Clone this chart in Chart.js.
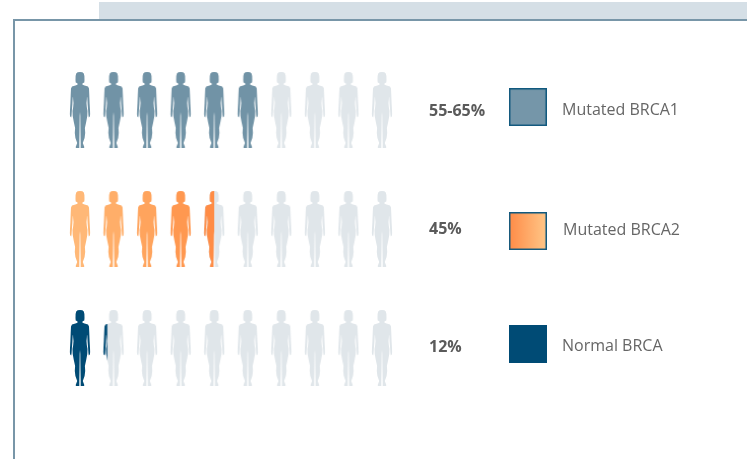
<!DOCTYPE html>
<html>
<head>
<meta charset="utf-8">
<title>BRCA risk</title>
<script src="https://cdn.jsdelivr.net/npm/chart.js@4"></script>
<style>
  html, body { margin: 0; padding: 0; background: #fff; }
  #wrap { position: relative; width: 747px; height: 459px; overflow: hidden; }
  #topbar { position: absolute; left: 99px; top: 2px; right: 0; height: 17px; background: #d5dfe6; }
  #frame { position: absolute; left: 13px; top: 19px; width: 800px; height: 500px; border: 2px solid #7896a8; }
  canvas { position: absolute; left: 0; top: 0; }
</style>
</head>
<body>
<div id="wrap">
  <div id="topbar"></div>
  <div id="frame"></div>
  <div style="position:absolute;left:0;top:0;width:747px;height:459px"><canvas id="chart"></canvas></div>
</div>
<script>
const categories = ['Mutated BRCA1', 'Mutated BRCA2', 'Normal BRCA'];
const percentLabels = ['55-65%', '45%', '12%'];
// how many of the ten figures are filled in each row
const filledFigures = [6, 4.5, 1.2];
const figureColumns = [1, 2, 3, 4, 5, 6, 7, 8, 9, 10];
const rowColors = [
  ['#7193a6', '#7193a6', '#7193a6', '#7193a6', '#7193a6', '#7193a6'],
  ['#ffb877', '#ffae69', '#ffa45d', '#ff9850', '#ff8c45'],
  ['#004b75', '#004b75']
];
const emptyColor = '#e0e6ea';

// half outline of the figure, mirrored when drawn
const halfBody = [[0,0],[2.4,.2],[3.8,1.4],[4.4,4],[4.5,8],[4.3,10.6],[2.6,11.2],[2.5,12.8],[4.6,13.6],[8,14.6],[9,16.5],[9.3,23],[9.6,31],[10,38],[10.3,42],
  [9.8,44.6],[8.8,45.4],[8.4,43],[8.1,38],[7.6,32],[7.3,26],[7,24.5],[6.9,27],[6.5,31],[6.8,35],[7.5,39],[7.3,44],[6.2,50],[4.9,56],[5.2,61],[4.6,66],[2.8,71],[4.4,75.2],[3.8,76],[.7,76],[.7,71],[.5,60],[.3,44],[0,40]];

function figureCanvas(color, fraction) {
  const c = document.createElement('canvas');
  c.width = 24;
  c.height = 80;
  const g = c.getContext('2d');
  const cx = 12, top = 2;
  g.save();
  g.beginPath();
  g.rect(cx - 10.4, 0, 20.8 * fraction, 80);
  g.clip();
  g.filter = 'blur(0.35px)';
  g.beginPath();
  halfBody.forEach((p, i) => i ? g.lineTo(cx + p[0], top + p[1]) : g.moveTo(cx + p[0], top + p[1]));
  for (let i = halfBody.length - 1; i >= 0; i--) g.lineTo(cx - halfBody[i][0], top + halfBody[i][1]);
  g.closePath();
  g.fillStyle = color;
  g.fill();
  g.restore();
  return c;
}

function swatchCanvas(row) {
  const c = document.createElement('canvas');
  c.width = 38;
  c.height = 38;
  const g = c.getContext('2d');
  if (row === 1) {
    const grad = g.createLinearGradient(0, 0, 38, 0);
    grad.addColorStop(0, '#ff8b47');
    grad.addColorStop(1, '#ffc788');
    g.fillStyle = grad;
  } else {
    g.fillStyle = row === 0 ? '#7596a9' : '#004b75';
  }
  g.fillRect(0, 0, 38, 38);
  if (row < 2) {
    g.strokeStyle = '#11597e';
    g.lineWidth = 1.5;
    g.strokeRect(.75, .75, 36.5, 36.5);
  }
  return c;
}

const datasets = [];
const swatchX = 14.35;
const swatchShift = [-.025, .017, -.034];
categories.forEach((name, r) => {
  const fill = filledFigures[r];
  const solid = figureColumns.filter(col => col - 1 < fill);
  datasets.push({
    label: name,
    data: solid.map(col => ({ x: col, y: r + 1 })),
    pointStyle: solid.map(col => figureCanvas(rowColors[r][col - 1], Math.min(1, fill - col + 1))),
    order: 1
  });
  const empty = figureColumns.filter(col => col > Math.floor(fill));
  datasets.push({
    label: name + ' rest',
    data: empty.map(col => ({ x: col, y: r + 1 })),
    pointStyle: empty.map(() => figureCanvas(emptyColor, 1)),
    order: 2
  });
  datasets.push({
    label: name + ' key',
    data: [{ x: swatchX, y: r + 1 + swatchShift[r] }],
    pointStyle: swatchCanvas(r),
    order: 1
  });
});

const rowText = {
  id: 'rowText',
  afterDatasetsDraw(chart) {
    const { ctx, scales } = chart;
    ctx.save();
    ctx.textBaseline = 'middle';
    categories.forEach((name, r) => {
      const y = scales.y.getPixelForValue(r + 1);
      ctx.font = 'bold 16px "Open Sans"';
      ctx.fillStyle = '#5a5a5a';
      ctx.fillText(percentLabels[r], 429, y + [1, 0, -1][r]);
      ctx.font = '16px "Open Sans"';
      ctx.fillStyle = '#666';
      ctx.fillText(name, r === 1 ? 563 : 562, y + [0, 1, -2][r]);
    });
    ctx.restore();
  }
};

new Chart(document.getElementById('chart'), {
  type: 'scatter',
  data: { datasets },
  plugins: [rowText],
  options: {
    responsive: true,
    maintainAspectRatio: false,
    animation: false,
    layout: { padding: 0, autoPadding: false },
    plugins: { legend: { display: false }, tooltip: { enabled: false } },
    scales: {
      x: { type: 'linear', display: false, min: -1.384, max: 20.88 },
      y: { type: 'linear', display: false, reverse: true, min: 0.0756, max: 3.933 }
    }
  }
});
</script>
</body>
</html>
